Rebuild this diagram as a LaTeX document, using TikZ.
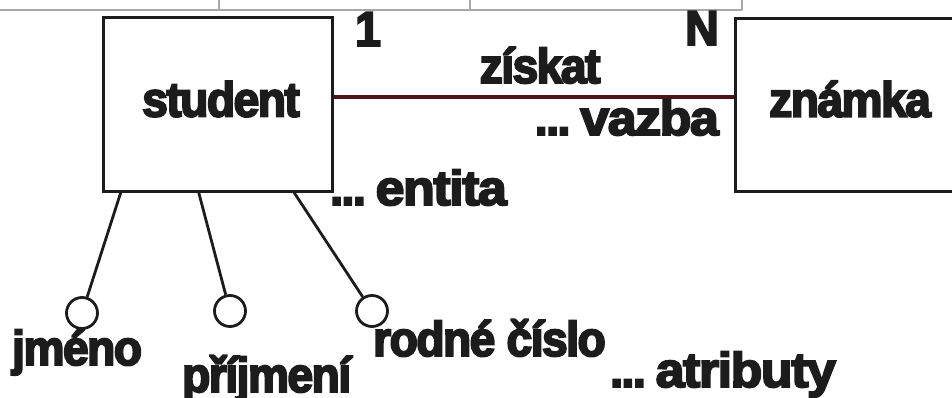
\documentclass[tikz,border=0pt]{standalone}
\usepackage{fontspec}
\newfontfamily\diafont[FakeStretch=0.94,FakeBold=4,LetterSpace=-3]{Liberation Sans Bold}
\newfontfamily\diafontw[FakeStretch=1.06,FakeBold=4,LetterSpace=-3]{Liberation Sans Bold}
\usetikzlibrary{calc}
\definecolor{inkc}{HTML}{1C1C1C}
\definecolor{relc}{HTML}{4A1418}
\definecolor{gridc}{HTML}{A8A8A8}
\newcommand\dotsword[1]{...\hspace{10pt}{\diafontw #1}}
\tikzset{
  entitybox/.style={draw=inkc, line width=3pt, rectangle, inner sep=0pt},
  attrc/.style={draw=inkc, line width=2.8pt, circle, minimum size=31pt, inner sep=0pt},
  attrline/.style={draw=inkc, line width=2.8pt},
  relline/.style={draw=relc, line width=4pt},
  gridline/.style={draw=gridc, line width=2pt},
  lbl/.style={inner sep=0pt, text=inkc, font=\diafont\fontsize{49}{58}\selectfont}
}
\begin{document}
\begin{tikzpicture}[x=1pt,y=-1pt]
\clip (0,0) rectangle (952,398);
\fill[white] (0,0) rectangle (952,398);
% table fragment at the top
\coordinate (g0) at (0,10);
\coordinate (g1) at (742,10);
\coordinate (v1) at (219,0);
\coordinate (v2) at (470,0);
\coordinate (v3) at (742,0);
\draw[gridline] (g0) -- (g1);
\draw[gridline] (v1) -- (v1 |- g0);
\draw[gridline] (v2) -- (v2 |- g0);
\draw[gridline] (v3) -- (v3 |- g0);
% entities
\node[entitybox, minimum width=229pt, minimum height=173pt] (student) at (217.5,104.5) {};
\node[entitybox, minimum width=240pt, minimum height=172pt] (znamka) at (855,105) {};
\node[lbl] (studentt) at (221,99) {student};
\node[lbl] (znamkat) at (850,99) {známka};
% relationship
\coordinate (rel) at (0,97);
\draw[relline] (student.east |- rel) -- (znamka.west |- rel);
\node[lbl, anchor=base] (one) at (368,46) {1};
\node[lbl, anchor=base] (many) at (702,45) {N};
\node[lbl, anchor=base] (ziskat) at (540,83) {získat};
\node[lbl, anchor=base east] (vazba) at (719,135) {\dotsword{vazba}};
\node[lbl, anchor=base west] (entita) at (330,205) {\dotsword{entita}};
% attributes
\node[attrc] (c1) at (82,313) {};
\node[attrc] (c2) at (230,311) {};
\node[attrc] (c3) at (372,311) {};
\coordinate (s1) at ($(student.south west)!0.083!(student.south east)$);
\coordinate (s2) at ($(student.south west)!0.419!(student.south east)$);
\coordinate (s3) at ($(student.south west)!0.830!(student.south east)$);
\draw[attrline] (c1) -- (s1);
\draw[attrline] (c2) -- (s2);
\draw[attrline] (c3) -- (s3);
\node[lbl, anchor=base west] (jmeno) at (12,365) {jméno};
\node[lbl, anchor=base west] (prijmeni) at (182,392) {příjmení};
\node[lbl, anchor=base west] (rc) at (373,356) {rodné číslo};
\node[lbl, anchor=base west] (atributy) at (610,387) {\dotsword{atributy}};
\end{tikzpicture}
\end{document}
